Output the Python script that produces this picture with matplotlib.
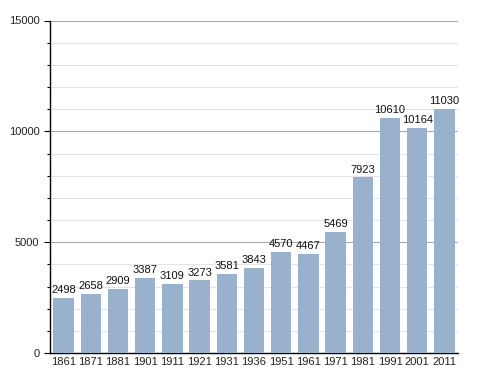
import matplotlib
matplotlib.use("Agg")
import matplotlib.pyplot as plt
from matplotlib.ticker import MultipleLocator

years = ["1861", "1871", "1881", "1901", "1911", "1921", "1931", "1936",
         "1951", "1961", "1971", "1981", "1991", "2001", "2011"]
population = [2498, 2658, 2909, 3387, 3109, 3273, 3581, 3843,
              4570, 4467, 5469, 7923, 10610, 10164, 11030]

plt.rcParams['font.family'] = ['Liberation Sans', 'DejaVu Sans']
fig = plt.figure(figsize=(4.88, 3.73), dpi=100)
ax = fig.add_axes([50/488, 20/373, 408/488, 332.5/373])

x = list(range(len(years)))
ax.bar(x, population, width=0.75, color="#9ab1cd", zorder=3)
for xi, v in zip(x, population):
    ax.text(xi, v + 120, str(v), ha="center", va="bottom", fontsize=8,
            color="#111111", zorder=4)

ax.set_xlim(-0.5, len(years) - 0.5)
ax.set_ylim(0, 15000)
ax.set_xticks(x)
ax.set_xticklabels(years, fontsize=8, color="#222222")
ax.yaxis.set_major_locator(MultipleLocator(5000))
ax.yaxis.set_minor_locator(MultipleLocator(1000))
ax.tick_params(axis="y", which="major", labelsize=8, labelcolor="#222222",
               length=4, width=0.8)
ax.tick_params(axis="y", which="minor", length=2.5, width=0.8)
ax.tick_params(axis="x", length=0, pad=3)
ax.grid(axis="y", which="major", color="#aaaaaa", linewidth=0.8, zorder=0)
ax.grid(axis="y", which="minor", color="#e4e4e4", linewidth=0.8, zorder=0)
for s in ["top", "right"]:
    ax.spines[s].set_visible(False)
ax.spines["left"].set_linewidth(1.0)
ax.spines["bottom"].set_linewidth(1.0)

fig.savefig("out.png", dpi=100)
